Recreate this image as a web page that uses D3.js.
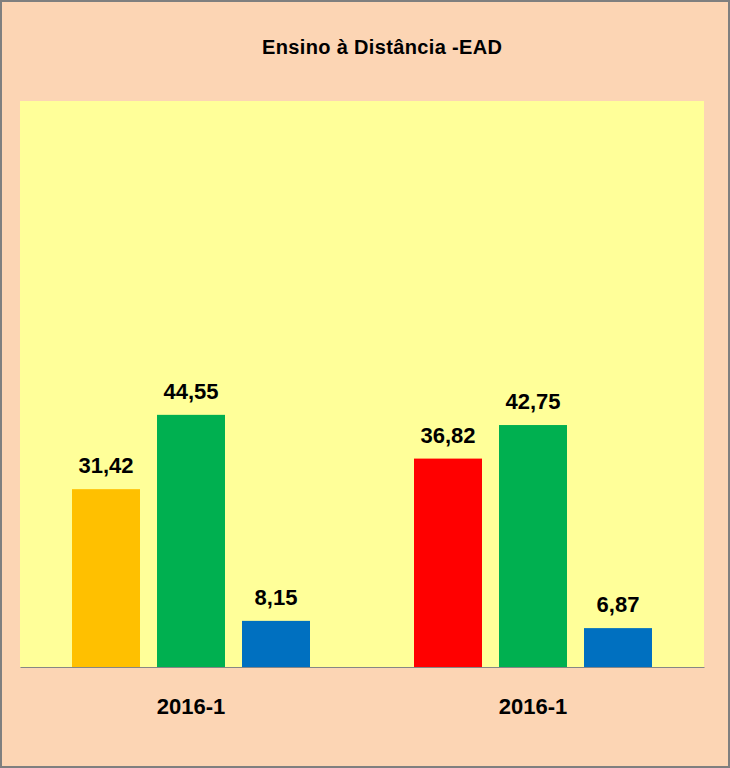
<!DOCTYPE html>
<html>
<head>
<meta charset="utf-8">
<script src="https://cdn.jsdelivr.net/npm/d3@7"></script>
<style>
  html, body { margin: 0; padding: 0; background: #fff; }
  svg { display: block; }
  text { font-family: "Liberation Sans", Arial, sans-serif; font-weight: bold; fill: #000; }
</style>
</head>
<body>
<svg id="chart" width="730" height="768"></svg>
<script>
// ---- data ----
const title = "Ensino à Distância -EAD";
const categories = ["2016-1", "2016-1"];
const series = ["s1", "s2", "s3"];
const values = [
  [31.42, 44.55, 8.15],
  [36.82, 42.75, 6.87]
];
const barColors = [
  ["#FFC000", "#00B050", "#0070C0"],
  ["#FF0000", "#00B050", "#0070C0"]
];
const yDomain = [0, 100];

// ---- layout ----
const W = 730, H = 768;
const plot = { left: 20, top: 101, right: 704, bottom: 667 };
const svg = d3.select("#chart");

// outer background + border
svg.append("rect").attr("x", 1).attr("y", 1).attr("width", W - 2).attr("height", H - 2)
  .attr("fill", "#FCD5B4").attr("stroke", "#7F7F7F").attr("stroke-width", 2);

// plot area
svg.append("rect").attr("x", plot.left).attr("y", plot.top)
  .attr("width", plot.right - plot.left).attr("height", plot.bottom - plot.top)
  .attr("fill", "#FFFF99");

// title
svg.append("text").attr("x", 382).attr("y", 54).attr("text-anchor", "middle")
  .attr("font-size", 20).attr("textLength", 240).attr("lengthAdjust", "spacing")
  .text(title);

// scales
const x0 = d3.scaleBand().domain(d3.range(categories.length))
  .range([plot.left, plot.right]).paddingInner(0).paddingOuter(0);
const gw = x0.bandwidth();
const x1 = d3.scaleBand().domain(d3.range(series.length))
  .range([gw * 52 / 342, gw * 290 / 342]).paddingInner(0.2).paddingOuter(0);
const y = d3.scaleLinear().domain(yDomain).range([plot.bottom, plot.top]);

// bars
const groups = svg.selectAll("g.grp").data(values).join("g")
  .attr("class", "grp")
  .attr("transform", (d, i) => `translate(${x0(i)},0)`);

groups.each(function(vals, gi) {
  const g = d3.select(this);
  g.selectAll("rect").data(vals).join("rect")
    .attr("x", (d, j) => x1(j))
    .attr("y", d => y(d))
    .attr("width", x1.bandwidth())
    .attr("height", d => y(0) - y(d))
    .attr("fill", (d, j) => barColors[gi][j]);
  g.selectAll("text").data(vals).join("text")
    .attr("x", (d, j) => x1(j) + x1.bandwidth() / 2)
    .attr("y", d => y(d) - 16)
    .attr("text-anchor", "middle")
    .attr("font-size", 22)
    .text(d => d.toFixed(2).replace(".", ","));
});

// x axis line
const xAxis = d3.axisBottom(x0).tickSize(0).tickFormat(i => categories[i]);
const ax = svg.append("g").attr("transform", `translate(0,${plot.bottom})`).call(xAxis);
ax.select(".domain").attr("stroke", "#868686").attr("stroke-width", 1.2);
ax.selectAll(".tick text").attr("dy", 0).attr("y", 47)
  .attr("font-size", 22).attr("font-family", "Liberation Sans, Arial, sans-serif")
  .attr("font-weight", "bold").attr("fill", "#000");
</script>
</body>
</html>
